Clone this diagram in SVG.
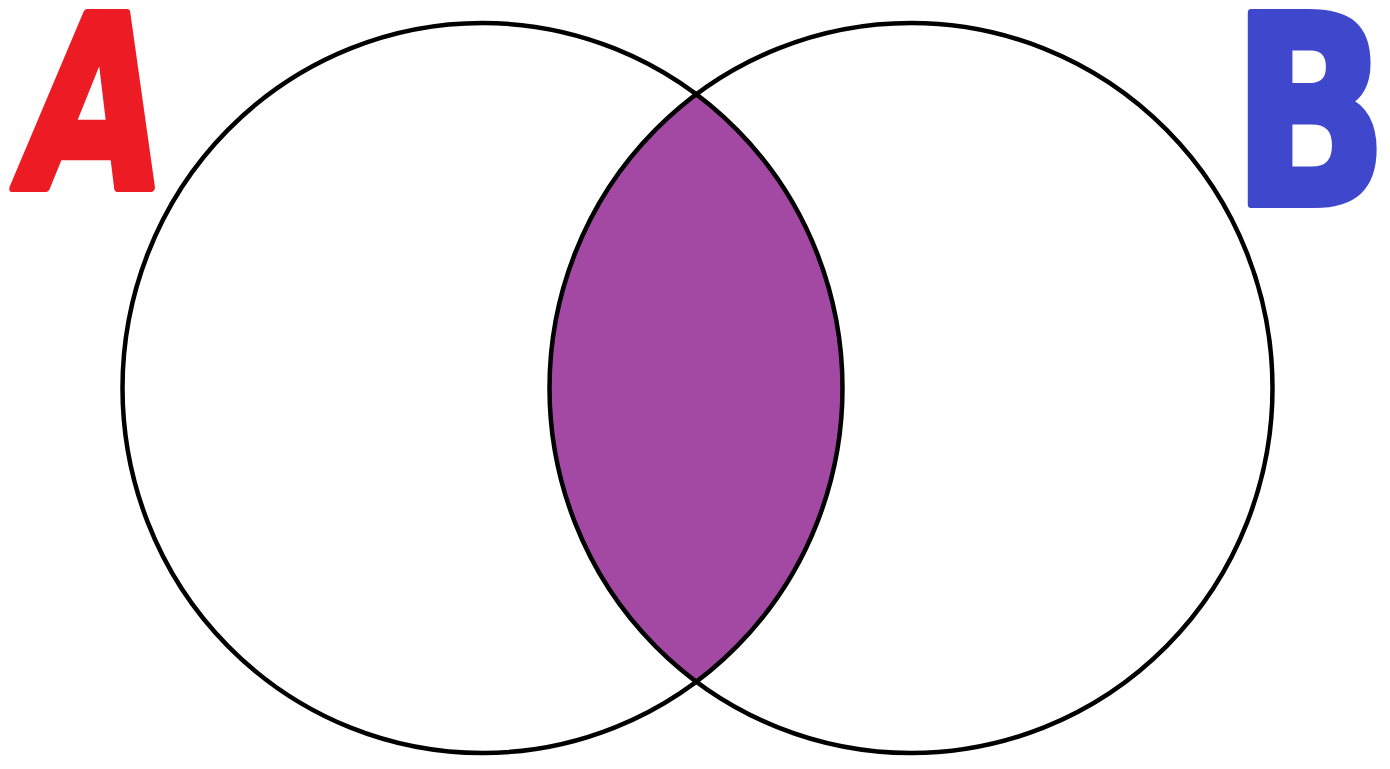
<svg xmlns="http://www.w3.org/2000/svg" width="1390" height="769" viewBox="0 0 1390 769">
  <style>
    .ring { fill: none; stroke: #000000; stroke-width: 4.5; }
    .lens { fill: #A349A4; stroke: none; }
    .label { font-family: "DejaVu Sans", "Liberation Sans", sans-serif; font-weight: bold; text-anchor: middle; stroke-width: 8; stroke-linejoin: round; }
  </style>
  <rect x="0" y="0" width="1390" height="769" fill="#ffffff"/>
  <g id="intersection">
    <path class="lens" d="M 696.75 94.7 A 361.5 365 0 0 0 696.75 681.3 A 360 365 0 0 0 696.75 94.7 Z"/>
  </g>
  <g id="setA">
    <ellipse class="ring" cx="482.5" cy="388" rx="360" ry="365"/>
    <text class="label" transform="translate(82,188) skewX(-8) scale(0.76,1)" font-size="240" fill="#ED1C24" stroke="#ED1C24">A</text>
  </g>
  <g id="setB">
    <ellipse class="ring" cx="911" cy="388" rx="361.5" ry="365"/>
    <text class="label" transform="translate(1310,204) scale(0.78,1)" font-size="262" fill="#3F48CC" stroke="#3F48CC">B</text>
  </g>
  <g id="connectors"></g>
</svg>
